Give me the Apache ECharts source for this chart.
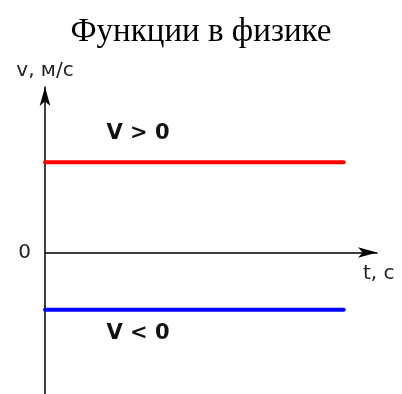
<!DOCTYPE html>
<html>
<head>
<meta charset="utf-8">
<style>
  html, body { margin: 0; padding: 0; background: #fff; }
  #chart { width: 402px; height: 394px; }
</style>
<script src="https://cdn.jsdelivr.net/npm/echarts@6/dist/echarts.min.js"></script>
</head>
<body>
<div id="chart"></div>
<script>
// Constant velocity: positive and negative cases
const timeValues = [0, 9];
const positiveVelocity = [3, 3];
const negativeVelocity = [-1.9, -1.9];
const labelTime = 2.8;
const positiveLabel = 'V > 0';
const negativeLabel = 'V < 0';

const chart = echarts.init(document.getElementById('chart'), null, { renderer: 'canvas' });

// Line points plus an invisible point that carries the series caption
function lineData(ts, vs, label, pos, offsetY) {
  const pts = ts.map((t, i) => [t, vs[i]]);
  pts.splice(1, 0, {
    value: [labelTime, vs[0]],
    symbolSize: 0,
    label: {
      show: true, formatter: label, position: pos, distance: 0, offset: [0, offsetY],
      fontFamily: 'DejaVu Sans', fontWeight: 'bold', fontSize: 21, color: '#111'
    }
  });
  return pts;
}

const axisText = { fontFamily: 'DejaVu Sans', fontSize: 20, color: '#222' };

chart.setOption({
  animation: false,
  title: {
    text: 'Функции в физике',
    left: 'center',
    top: 11,
    textStyle: { fontFamily: 'Liberation Serif', fontSize: 33, fontWeight: 'normal', color: '#000' }
  },
  grid: { left: 45, right: 25, top: 87, bottom: 0, containLabel: false },
  xAxis: {
    type: 'value', min: 0, max: 10,
    name: 't, с', nameLocation: 'end', nameGap: -14,
    nameTextStyle: Object.assign({ verticalAlign: 'top', align: 'left', padding: [11, 0, 0, 0] }, axisText),
    axisLine: { onZero: true, lineStyle: { color: '#000', width: 1.5 }, symbol: ['none', 'arrow'], symbolSize: [8, 19] },
    axisTick: { show: false }, axisLabel: { show: false }, splitLine: { show: false }
  },
  yAxis: {
    type: 'value', min: -4.7, max: 5.5,
    name: 'v, м/с', nameLocation: 'end', nameGap: 6,
    nameTextStyle: Object.assign({ align: 'center' }, axisText),
    axisLine: { lineStyle: { color: '#000', width: 1.5 }, symbol: ['none', 'arrow'], symbolSize: [8, 19] },
    axisTick: { show: false },
    axisLabel: Object.assign({
      show: true, margin: 14, padding: [0, 0, 5, 0],
      formatter: v => (v === 0 ? '0' : '')
    }, axisText),
    splitLine: { show: false }
  },
  series: [
    {
      type: 'line', data: lineData(timeValues, positiveVelocity, positiveLabel, 'top', -18),
      symbol: 'circle', symbolSize: 0, showSymbol: true,
      lineStyle: { color: '#ff0000', width: 4, cap: 'round' }
    },
    {
      type: 'line', data: lineData(timeValues, negativeVelocity, negativeLabel, 'bottom', 13),
      symbol: 'circle', symbolSize: 0, showSymbol: true,
      lineStyle: { color: '#0000ff', width: 4, cap: 'round' }
    }
  ]
});
</script>
</body>
</html>
